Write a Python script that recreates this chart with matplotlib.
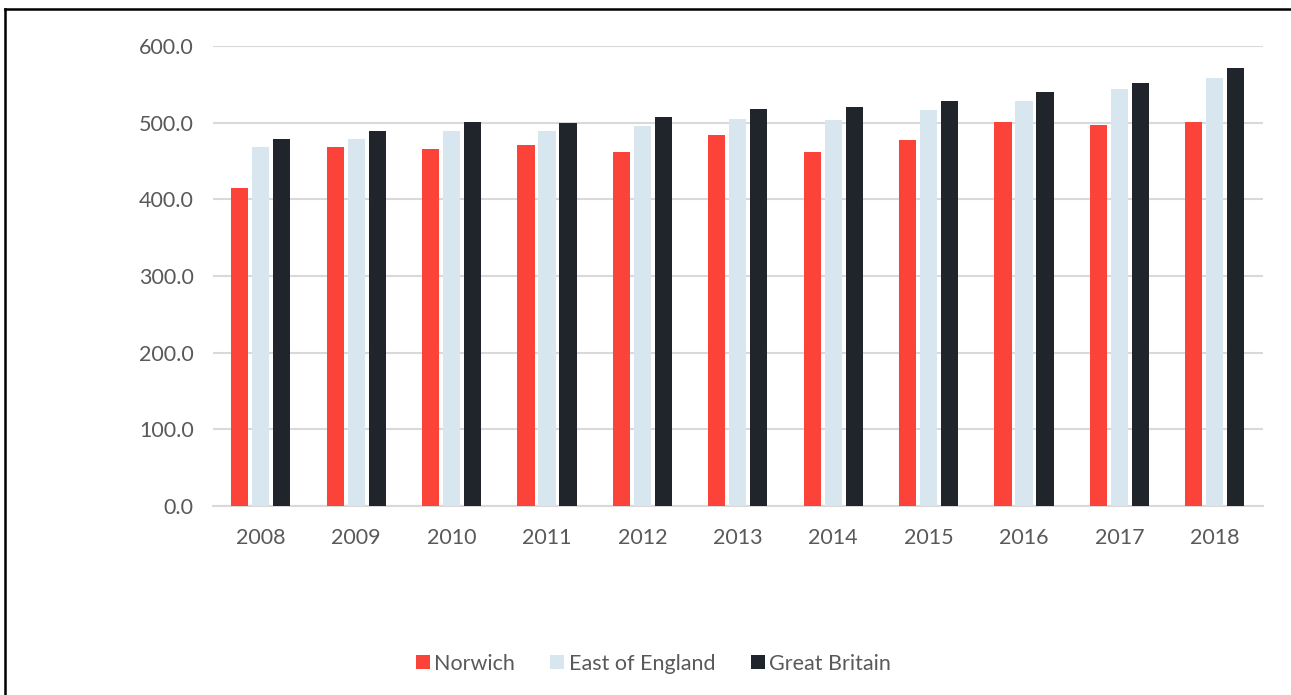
import numpy as np
import matplotlib.pyplot as plt
from matplotlib.lines import Line2D

plt.rcParams['font.family'] = ['Lato', 'DejaVu Sans']

years = ['2008', '2009', '2010', '2011', '2012', '2013', '2014', '2015', '2016', '2017', '2018']
norwich = [414.3, 468.7, 466.0, 471.3, 461.8, 483.6, 461.8, 477.8, 500.5, 497.0, 501.3]
east_of_england = [468.7, 478.7, 488.8, 489.6, 495.3, 504.4, 503.5, 517.0, 528.7, 544.4, 558.0]
great_britain = [478.7, 489.6, 500.5, 499.2, 507.8, 517.5, 520.5, 528.7, 539.7, 552.2, 570.5]

series = [
    ('Norwich', norwich, '#FC433A'),
    ('East of England', east_of_england, '#D8E6EF'),
    ('Great Britain', great_britain, '#1F252B'),
]

text_color = '#595959'

fig = plt.figure(figsize=(12.91, 6.95), dpi=100)
ax = fig.add_axes([0.165, 0.272, 0.813, 0.662])

x = np.arange(len(years))
step = 0.22
width = 0.18
for i, (name, vals, col) in enumerate(series):
    ax.bar(x + (i - 1) * step, vals, width, color=col, label=name, zorder=3)

ax.set_xlim(-0.5, len(years) - 0.5)
ax.set_ylim(0, 600)
ax.set_yticks(np.arange(0, 601, 100))
ax.set_yticklabels([f'{v:.1f}' for v in np.arange(0, 601, 100)])
ax.set_xticks(x)
ax.set_xticklabels(years)
ax.yaxis.grid(True, color='#D9D9D9', linewidth=1.5, zorder=0)
ax.tick_params(axis='both', length=0, labelsize=15.5, colors=text_color)
ax.tick_params(axis='y', pad=14)
ax.tick_params(axis='x', pad=16)
for s in ['top', 'right', 'left']:
    ax.spines[s].set_visible(False)
ax.spines['bottom'].set_color('#D9D9D9')
ax.spines['bottom'].set_linewidth(1.5)

leg = fig.legend(loc='center', bbox_to_anchor=(0.506, 0.045), ncol=3, frameon=False,
                 fontsize=15.5, handlelength=0.65, handleheight=0.65, handletextpad=0.2,
                 columnspacing=1.65)
for t in leg.get_texts():
    t.set_color(text_color)

# outer frame (top and left edges)
fig.add_artist(Line2D([5 / 1291, 5 / 1291], [0, 1 - 9 / 695], transform=fig.transFigure,
                      color='black', linewidth=1.8))
fig.add_artist(Line2D([5 / 1291, 1], [1 - 9 / 695, 1 - 9 / 695], transform=fig.transFigure,
                      color='black', linewidth=1.8))

fig.savefig('out.png', dpi=100)
